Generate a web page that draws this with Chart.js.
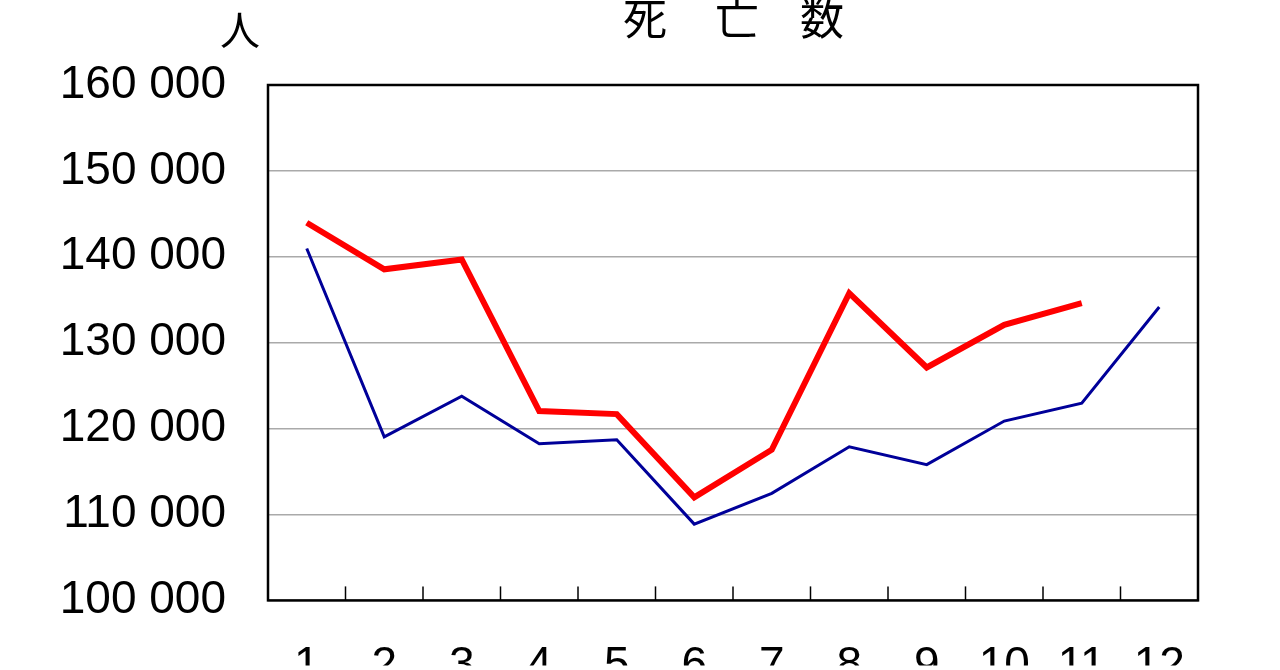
<!DOCTYPE html>
<html><head><meta charset="utf-8">
<script src="https://cdn.jsdelivr.net/npm/chart.js@4/dist/chart.umd.min.js"></script>
<style>html,body{margin:0;padding:0;background:#fff}#w{width:1280px;height:670px}</style>
</head><body><div id="w"><canvas id="c"></canvas></div>
<script>
const months=['1','2','3','4','5','6','7','8','9','10','11','12'];
const redSeries=[143960,138540,139690,122040,121690,112000,117540,135770,127120,132080,134620,null];
const blueSeries=[140960,119040,123770,118230,118690,108880,112460,117880,115810,120880,122960,134150];
const yTicks=[100000,110000,120000,130000,140000,150000,160000];
const FONT='"Liberation Sans", Arial, sans-serif';
const deco={id:'deco',afterDraw(ch){
  const c=ch.ctx,a=ch.chartArea;
  c.save();
  c.strokeStyle='#000';c.lineWidth=2.5;c.strokeRect(a.left,a.top,a.right-a.left,a.bottom-a.top);
  c.lineWidth=1.5;
  const step=(a.right-a.left)/months.length;
  for(let i=1;i<months.length;i++){const px=a.left+i*step;c.beginPath();c.moveTo(px,a.bottom);c.lineTo(px,a.bottom-14);c.stroke();}
  c.fillStyle='#000';c.textAlign='center';c.textBaseline='middle';
  c.font='44px "Noto Sans CJK JP"';
  c.fillText('死',645,18);c.fillText('亡',737,18);c.fillText('数',822,18);
  c.font='40px "Noto Sans CJK JP"';
  c.fillText('人',240,30);
  c.restore();
}};
new Chart(document.getElementById('c'),{
  type:'line',
  data:{labels:months,datasets:[
    {data:redSeries,borderColor:'#ff0000',borderWidth:6,pointRadius:0,tension:0,spanGaps:false},
    {data:blueSeries,borderColor:'#000099',borderWidth:3,pointRadius:0,tension:0}
  ]},
  options:{responsive:true,maintainAspectRatio:false,animation:false,
    layout:{padding:{top:85,right:82,left:0,bottom:0}},
    plugins:{legend:{display:false},tooltip:{enabled:false}},
    scales:{
      x:{offset:true,grid:{display:false},border:{display:false},
        ticks:{font:{size:46,family:FONT},color:'#000',padding:30},
        afterFit(s){s.height=65;}},
      y:{min:100000,max:160000,afterBuildTicks(s){s.ticks=yTicks.map(v=>({value:v}));},
        grid:{color:'#aaa',lineWidth:1.5,borderDash:[2,2],drawTicks:false},border:{display:false},
        ticks:{font:{size:46,family:FONT},color:'#000',padding:42,
          callback:v=>String(v/1000)+' 000'},
        afterFit(s){s.width=268;}}
    }},
  plugins:[deco]
});
</script></body></html>
